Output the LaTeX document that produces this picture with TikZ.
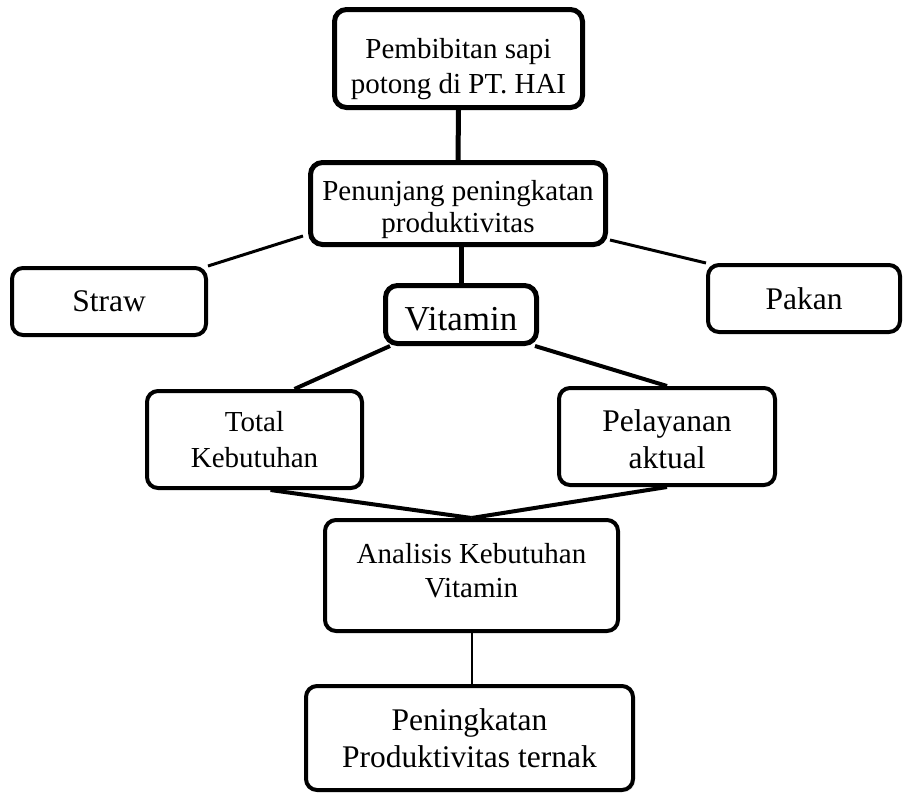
\documentclass[tikz,border=0pt]{standalone}
\usepackage{fontspec}
\setmainfont{Liberation Serif}
\usepackage{tikz}
\usetikzlibrary{shadows}
\newcommand{\padtop}[1]{\rule{0pt}{#1}}
\newcommand{\padbot}[1]{\rule[-#1]{0pt}{#1}}

\begin{document}
\begin{tikzpicture}[x=1pt, y=-1pt,
  box/.style={draw=black, fill=white, rounded corners=11pt, align=center,
    line width=4pt, inner sep=0pt},
  boldbox/.style={box, line width=5pt, rounded corners=12pt},
  txt/.style={font=\fontsize{29}{34}\selectfont},
  bigtxt/.style={font=\fontsize{31.5}{37}\selectfont},
  link/.style={line width=4pt}
]
\useasboundingbox (0,0) rectangle (906,793);

% boxes
\node[boldbox, font=\fontsize{29}{35}\selectfont,
  minimum width=248pt, minimum height=98pt] (bibit) at (458.5,58.5)
{\padtop{42pt}Pembibitan sapi\\potong di PT. HAI};

\node[boldbox, font=\fontsize{29}{32}\selectfont,
  minimum width=295pt, minimum height=82pt] (tunjang) at (458,203.5)
{\padtop{32pt}Penunjang peningkatan\\produktivitas};

\node[box, bigtxt, minimum width=194pt, minimum height=67pt] (straw) at (109,301.5)
{Straw};

\node[box, bigtxt, minimum width=192pt, minimum height=67pt] (pakan) at (804,298.5)
{Pakan};

\node[boldbox, font=\fontsize{35}{40}\selectfont,
  minimum width=151pt, minimum height=58pt] (vitamin) at (461,314.5)
{\padtop{32pt}Vitamin};

\node[box, font=\fontsize{29}{36}\selectfont,
  minimum width=215pt, minimum height=97pt] (total) at (254.5,439.5)
{Total\\Kebutuhan};

\node[box, bigtxt, minimum width=216pt, minimum height=97pt] (layan) at (667,436.5)
{\padtop{28pt}Pelayanan\\aktual};

\node[box, txt, minimum width=293pt, minimum height=111pt] (analisis) at (471.5,575.5)
{Analisis Kebutuhan\\Vitamin\padbot{10pt}};

\node[box, bigtxt, minimum width=327pt, minimum height=104pt,
  drop shadow={shadow xshift=2pt, shadow yshift=-2pt, fill=black!20}] (naik) at (469.5,738)
{Peningkatan\\Produktivitas ternak};

% connectors
\draw[line width=5pt] (bibit.south) -- (tunjang.north);
\draw[line width=3pt] ([shift={(-5,-11)}]tunjang.south west) -- (straw.north east);
\draw[line width=3pt] ([shift={(2,-7)}]tunjang.south east) -- (pakan.north west);
\draw[line width=5pt] (vitamin.north |- tunjang.south) -- (vitamin.north);
\draw[link] ([xshift=7pt]vitamin.south west) -- ([xshift=40pt]total.north);
\draw[link] ([xshift=-4pt]vitamin.south east) -- (layan.north);
\draw[link] ([xshift=16pt]total.south) -- (analisis.north);
\draw[link] (layan.south) -- (analisis.north);
\draw[line width=2pt] (analisis.south) -- (analisis.south |- naik.north);

\end{tikzpicture}
\end{document}
